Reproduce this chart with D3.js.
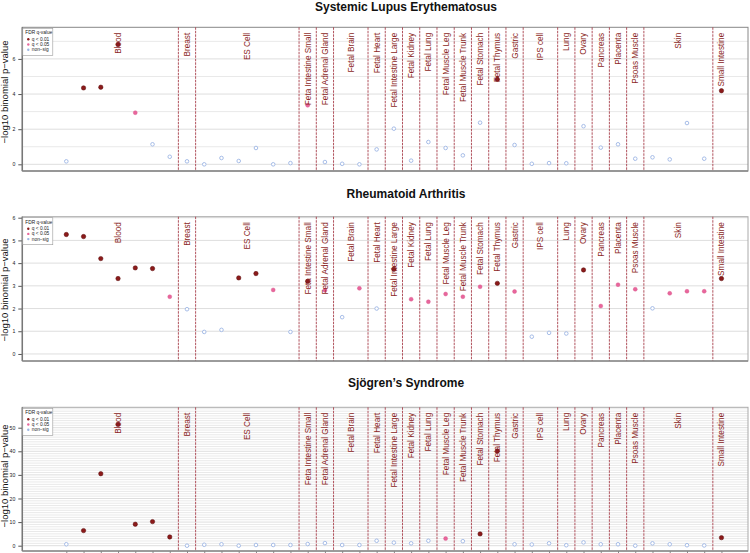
<!DOCTYPE html>
<html>
<head>
<meta charset="utf-8">
<script src="https://cdn.jsdelivr.net/npm/d3@7"></script>
<style>
  html, body { margin: 0; padding: 0; background: #fff; }
  svg { display: block; font-family: "Liberation Sans", Arial, sans-serif; }
</style>
</head>
<body>
<svg id="chart" width="750" height="553"></svg>
<script>
// ---------------- DATA ----------------
const groupNames = ["Blood","Breast","ES Cell","Feta Intestine Small","Fetal Adrenal Gland","Fetal Brain",
  "Fetal Heart","Fetal Intestine Large","Fetal Kidney","Fetal Lung","Fetal Muscle Leg","Fetal Muscle Trunk",
  "Fetal Stomach","Fetal Thymus","Gastric","IPS cell","Lung","Ovary","Pancreas","Placenta","Psoas Muscle",
  "Skin","Small Intestine"];
const groupSizes = [7,1,6,1,1,2,1,1,1,1,1,1,1,1,1,2,1,1,1,1,1,4,1];

const panelTitles = ["Systemic Lupus Erythematosus", "Rheumatoid Arthritis", "Sjögren\u2019s Syndrome"];

// sig codes: 2 = q < 0.01, 1 = q < 0.05, 0 = non-sig
const sleValues = [0.17,4.35,4.39,6.82,2.94,1.14,0.43, 0.17, 0.0,0.36,0.19,0.93,0.0,0.07, 3.36, 0.13, 0.03,0.0,
  0.85, 2.03, 0.21, 1.27, 0.93, 0.51, 2.37, 4.84, 1.1, 0.03,0.07, 0.06, 2.17, 0.95, 1.14, 0.32, 0.40,0.28,2.35,0.32, 4.19];
const sleSig = [0,2,2,2,1,0,0, 0, 0,0,0,0,0,0, 1, 0, 0,0, 0,0,0,0,0,0,0, 2, 0, 0,0, 0,0,0,0,0, 0,0,0,0, 2];

const raValues = [5.26,5.17,4.2,3.32,3.79,3.76,2.52, 1.97, 0.97,1.06,3.35,3.54,2.82,0.97, 3.2, 2.8, 1.62,2.89,
  2.0, 3.73, 2.41, 2.3, 2.64, 2.52, 2.96, 3.11, 2.75, 0.76,0.93, 0.90, 3.7, 2.11, 3.05, 2.85, 2.01,2.67,2.76,2.76, 3.32];
const raSig = [2,2,2,2,2,2,1, 0, 0,0,2,2,1,0, 2, 1, 0,1, 0, 2, 1,1,1,1,1, 2, 1, 0,0, 0, 2, 1,1,1, 0,1,1,1, 2];

const sjValues = [0.6,6.4,30.5,51.4,9.1,10.2,3.7, 0.0, 0.4,0.6,0.0,0.3,0.3,0.3, 0.7, 1.1, 0.3,0.3,
  2.1, 1.3, 1.0, 2.1, 3.0, 1.9, 5.0, 40.1, 0.6, 0.5,1.0, 0.2, 1.4, 0.6, 0.6, 0.0, 1.0,0.6,0.2,0.1, 3.4];
const sjSig = [0,2,2,2,2,2,2, 0, 0,0,0,0,0,0, 0,0, 0,0, 0,0,0,0,1,0,2,2, 0, 0,0,0,0,0,0,0, 0,0,0,0, 2];

const sleTicks = [0,2,4,6];
const raTicks = [0,1,2,3,4,5,6];
const sjTicks = [0,10,20,30,40,50];

const legendTitle = "FDR q-value";
const legendLabels = ["q < 0.01", "q < 0.05", "non\u2212sig"];
const yAxisLabel = "\u2212log10 binomial p\u2212value";

// ---------------- LAYOUT ----------------
const svg = d3.select("#chart");
const plotLeft = 22.3, plotRight = 748;
const nPoints = d3.sum(groupSizes);
const x = d3.scaleLinear().domain([-1.553, 40.54]).range([plotLeft, plotRight]);

const colDark = "#8b1a1a", colPink = "#e8669c", colBlue = "#9db6e4";
const sepColor = "#a8404c";
const labelColor = "#8b1f24";

const panels = [
  { title: panelTitles[0], values: sleValues, sig: sleSig, ticks: sleTicks, top: 27.3, bottom: 171,
    domain: [-0.38, 7.8], gridMax: 7, titleY: 10.5, labelCY: 92 },
  { title: panelTitles[1], values: raValues, sig: raSig, ticks: raTicks, top: 216.7, bottom: 361,
    domain: [-0.31, 6.044], gridMax: 6, titleY: 197.5, labelCY: 290 },
  { title: panelTitles[2], values: sjValues, sig: sjSig, ticks: sjTicks, top: 407.3, bottom: 551,
    domain: [-2.25, 58.64], gridMax: 58, titleY: 387, labelCY: 476, xTicks: true }
];

const groups = [];
let start = 1;
groupNames.forEach((name, i) => {
  const n = groupSizes[i];
  groups.push({ name, start, end: start + n - 1, center: start + (n - 1) / 2 });
  start += n;
});

panels.forEach((p, pi) => {
  const y = d3.scaleLinear().domain(p.domain).range([p.bottom, p.top]);
  const g = svg.append("g");

  g.append("text").attr("x", 406).attr("y", p.titleY).attr("text-anchor", "middle")
    .attr("font-size", 12).attr("font-weight", "bold").attr("fill", "#111").text(p.title);

  const gridVals = d3.range(0, p.gridMax + 1);
  g.append("g").selectAll("line").data(gridVals).join("line")
    .attr("x1", plotLeft).attr("x2", plotRight)
    .attr("y1", d => y(d)).attr("y2", d => y(d))
    .attr("stroke", d => p.ticks.includes(d) ? "#dedede" : "#e9e9e9")
    .attr("stroke-width", 1);

  g.append("rect").attr("x", plotLeft).attr("y", p.top)
    .attr("width", plotRight - plotLeft).attr("height", p.bottom - p.top)
    .attr("fill", "none").attr("stroke", pi === 0 ? "#888" : "#aaa").attr("stroke-width", 1);

  g.append("g").selectAll("line").data(groups.slice(1)).join("line")
    .attr("x1", d => x(d.start - 0.5)).attr("x2", d => x(d.start - 0.5))
    .attr("y1", p.top).attr("y2", p.bottom)
    .attr("stroke", sepColor).attr("stroke-width", 0.9).attr("stroke-dasharray", "2.5,1");

  const axis = d3.axisLeft(y).tickValues(p.ticks).tickSize(4).tickPadding(3).tickFormat(d3.format("d"));
  const ax = g.append("g").attr("transform", `translate(${plotLeft},0)`).call(axis);
  ax.select(".domain").remove();
  ax.selectAll(".tick line").attr("stroke", "#555");
  ax.selectAll(".tick text").attr("font-size", 5.2).attr("fill", "#222")
    .attr("font-family", "Liberation Sans, Arial, sans-serif");
  g.append("line").attr("x1", plotLeft).attr("x2", plotLeft).attr("y1", p.top).attr("y2", p.bottom)
    .attr("stroke", "#777").attr("stroke-width", 1.5);
  g.append("line").attr("x1", plotLeft).attr("x2", plotRight).attr("y1", p.bottom).attr("y2", p.bottom)
    .attr("stroke", "#888").attr("stroke-width", 1.3);

  if (p.xTicks) {
    const xa = d3.axisBottom(x).tickValues(d3.range(1, nPoints + 1)).tickSize(3).tickFormat("");
    const xg = g.append("g").attr("transform", `translate(0,${p.bottom})`).call(xa);
    xg.select(".domain").remove();
    xg.selectAll(".tick line").attr("stroke", "#888");
  }

  g.append("text").attr("transform", `translate(7.5,${p.labelCY}) rotate(-90)`)
    .attr("text-anchor", "middle").attr("font-size", 9.5).attr("fill", "#111").text(yAxisLabel);

  const pts = p.values.map((v, i) => ({ i: i + 1, v, s: p.sig[i] }));
  const pg = g.append("g");
  pg.selectAll("circle.ns").data(pts.filter(d => d.s === 0)).join("circle")
    .attr("cx", d => x(d.i)).attr("cy", d => y(d.v)).attr("r", 1.8)
    .attr("fill", "#fff").attr("stroke", colBlue).attr("stroke-width", 0.9);
  pg.selectAll("circle.q05").data(pts.filter(d => d.s === 1)).join("circle")
    .attr("cx", d => x(d.i)).attr("cy", d => y(d.v)).attr("r", 2)
    .attr("fill", colPink).attr("stroke", "#d9558b").attr("stroke-width", 0.4);
  pg.selectAll("circle.q01").data(pts.filter(d => d.s === 2)).join("circle")
    .attr("cx", d => x(d.i)).attr("cy", d => y(d.v)).attr("r", 2.2)
    .attr("fill", colDark).attr("stroke", "#5a0d0d").attr("stroke-width", 0.5);

  g.append("g").selectAll("text").data(groups).join("text")
    .attr("transform", d => `translate(${x(d.center)},${p.top + 5.5}) rotate(-90)`)
    .attr("text-anchor", "end").attr("dy", "0.36em")
    .attr("font-size", 8.2).attr("fill", labelColor).text(d => d.name);

  const lg = g.append("g").attr("transform", `translate(${plotLeft},${p.top + 1})`);
  lg.append("rect").attr("x", 0.5).attr("y", 0).attr("width", 30).attr("height", 27)
    .attr("fill", "#fff").attr("stroke", "#999").attr("stroke-width", 0.6);
  lg.append("text").attr("x", 3).attr("y", 6).attr("font-size", 4.8).attr("fill", "#222").text(legendTitle);
  const lcol = [colDark, colPink, colBlue];
  legendLabels.forEach((t, k) => {
    const yy = 11 + k * 5.2;
    lg.append("circle").attr("cx", 6).attr("cy", yy).attr("r", 1.2).attr("fill", lcol[k]);
    lg.append("text").attr("x", 9.5).attr("y", yy + 1.6).attr("font-size", 4.8).attr("fill", "#222").text(t);
  });
});
</script>
</body>
</html>
